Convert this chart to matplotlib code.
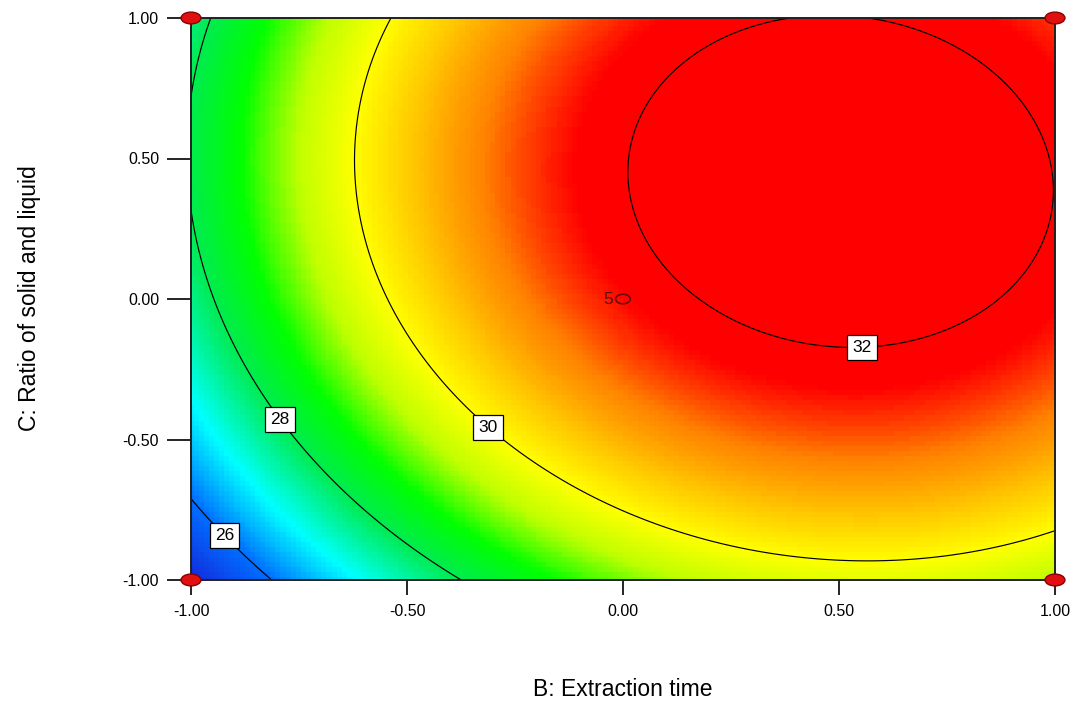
import numpy as np
import matplotlib.pyplot as plt
from matplotlib.colors import LinearSegmentedColormap, Normalize
from matplotlib.patches import Ellipse

plt.rcParams['font.family'] = ['Liberation Sans', 'DejaVu Sans']

# quadratic model in coded units, B: extraction time, C: ratio of solid and liquid
coef_intercept = 31.70
coef_B = 2.05
coef_C = 1.23
coef_BC = -0.18
coef_BB = -1.96
coef_CC = -1.36

contour_levels = [26, 28, 30, 32]
label_positions = [(-0.905, -0.815), (-0.778, -0.41), (-0.30, -0.435), (0.553, -0.14)]

# factorial points of the design and the replicated centre point
design_B = [-1.0, -1.0, 1.0, 1.0]
design_C = [-1.0, 1.0, -1.0, 1.0]
center_B = 0.0
center_C = 0.0
center_reps = 5

tick_values = [-1.0, -0.5, 0.0, 0.5, 1.0]

# response value -> colour stops for the shaded surface
color_values = [24.9, 26.0, 27.0, 28.0, 28.7, 29.4, 30.0, 30.55, 31.15, 31.75, 32.5]
color_list = ['#1428dc', '#006eff', '#00ffff', '#00eb50', '#00ff00', '#beff00',
              '#ffff00', '#ffc800', '#ff8200', '#ff0000', '#ff0000']


def model(b, c):
    return (coef_intercept + coef_B * b + coef_C * c + coef_BC * b * c
            + coef_BB * b ** 2 + coef_CC * c ** 2)


vmin, vmax = color_values[0], color_values[-1]
stops = [(v - vmin) / (vmax - vmin) for v in color_values]
cmap = LinearSegmentedColormap.from_list('de_rainbow', list(zip(stops, color_list)))

fig = plt.figure(figsize=(10.77, 7.04), dpi=100)
ax = fig.add_axes([191 / 1077, 1 - 580 / 704, 864 / 1077, 562 / 704])

# coarse cells for the shading, fine grid for the contour lines
bb, cc = np.meshgrid(np.linspace(-1, 1, 170), np.linspace(-1, 1, 112))
ax.pcolormesh(bb, cc, model(bb, cc), cmap=cmap, norm=Normalize(vmin, vmax),
              shading='nearest', rasterized=True)

fb, fc = np.meshgrid(np.linspace(-1, 1, 500), np.linspace(-1, 1, 400))
cs = ax.contour(fb, fc, model(fb, fc), levels=contour_levels, colors='black',
                linewidths=0.85)
labels = ax.clabel(cs, fmt='%d', manual=label_positions, inline=False, fontsize=12.5)
for t in labels:
    t.set_rotation(0)
    t.set_color('black')
    t.set_bbox(dict(boxstyle='square,pad=0.3', fc='white', ec='black', lw=0.9))
    t.set_zorder(5)

for b, c in zip(design_B, design_C):
    ax.add_patch(Ellipse((b, c), 0.046, 0.042, fc='#e01010', ec='#8b0000',
                         lw=1.0, clip_on=False, zorder=6))
ax.add_patch(Ellipse((center_B, center_C), 0.034, 0.034, fc='none', ec='#6a0a0a',
                     lw=1.2, zorder=6))
ax.text(center_B - 0.022, center_C, str(center_reps), ha='right', va='center',
        fontsize=12.5, color='#5a1010', zorder=6)

ax.set_xlim(-1, 1)
ax.set_ylim(-1, 1)
ax.set_xticks(tick_values)
ax.set_yticks(tick_values)
ax.set_xticklabels(['%.2f' % v for v in tick_values])
ax.set_yticklabels(['%.2f' % v for v in tick_values])
ax.tick_params(axis='x', direction='out', length=11, width=1.2, pad=6, labelsize=11.5)
ax.tick_params(axis='y', direction='out', length=17, width=1.2, pad=6, labelsize=11.5)
for sp in ax.spines.values():
    sp.set_linewidth(1.4)
    sp.set_color('#202020')

fig.text(623 / 1077, 1 - 690 / 704, 'B: Extraction time', ha='center', va='center',
         fontsize=16.5)
fig.text(30 / 1077, 1 - 298 / 704, 'C: Ratio of solid and liquid', ha='center',
         va='center', rotation=90, fontsize=16.5)

fig.savefig('out.png', dpi=100)
